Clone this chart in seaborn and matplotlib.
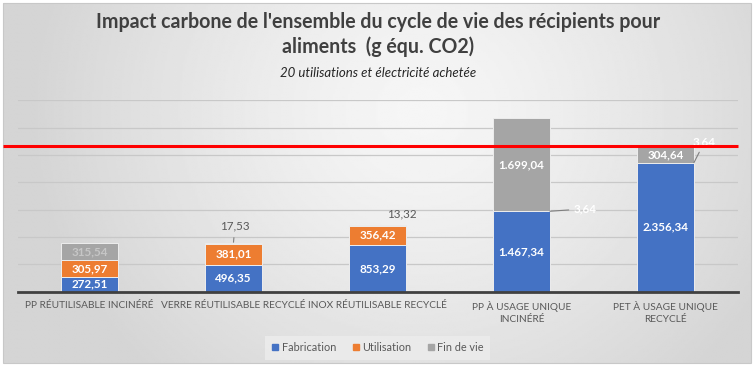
# Impact carbone des récipients pour aliments - barres empilées
import numpy as np
import pandas as pd
import matplotlib.pyplot as plt
import seaborn as sns
from matplotlib.lines import Line2D
from matplotlib.patches import Rectangle

# Données
categories = [
    "PP RÉUTILISABLE INCINÉRÉ",
    "VERRE RÉUTILISABLE RECYCLÉ",
    "INOX RÉUTILISABLE RECYCLÉ",
    "PP À USAGE UNIQUE\nINCINÉRÉ",
    "PET À USAGE UNIQUE\nRECYCLÉ",
]
fabrication = [272.51, 496.35, 853.29, 1467.34, 2356.34]
utilisation = [305.97, 381.01, 356.42, 3.64, 3.64]
fin_de_vie = [315.54, 17.53, 13.32, 1699.04, 304.64]
series_names = ["Fabrication", "Utilisation", "Fin de vie"]
series_colors = ["#4472C4", "#ED7D31", "#A5A5A5"]
grid_values = [500, 1000, 1500, 2000, 2500, 3000, 3500]

df = pd.DataFrame({
    "recipient": categories,
    "Fabrication": fabrication,
    "Utilisation": utilisation,
    "Fin de vie": fin_de_vie,
})


def fmt(v):
    # format français : 1.467,34
    s = f"{v:,.2f}"
    return s.replace(",", "#").replace(".", ",").replace("#", ".")


sns.set_style("white")
plt.rcParams["font.family"] = ["Lato", "DejaVu Sans"]

fig = plt.figure(figsize=(7.56, 3.70), dpi=100)
fig.patch.set_facecolor("white")

# Fond dégradé
bg = fig.add_axes([0, 0, 1, 1], zorder=-10)
xx, yy = np.meshgrid(np.linspace(0, 1, 400), np.linspace(0, 1, 200))
d = np.sqrt(((xx - 0.56) / 0.52) ** 2 + ((yy - 0.3) / 1.0) ** 2)
val = 0.965 - 0.13 * np.clip(d, 0, 1) ** 1.3
x0, x1 = 3 / 756, 751 / 756
y0, y1 = 1 - 363 / 370, 1 - 3 / 370
bg.imshow(val, cmap="gray", vmin=0, vmax=1, extent=[x0, x1, y0, y1],
          aspect="auto", origin="upper")
bg.add_patch(Rectangle((x0, y0), x1 - x0, y1 - y0, fill=False,
                       edgecolor="#C8C8C8", lw=0.8))
bg.set_xlim(0, 1)
bg.set_ylim(0, 1)
bg.axis("off")

ax = fig.add_axes([17.5 / 756, 78.3 / 370, 720 / 756, 191.3 / 370])
ax.set_facecolor("none")

bottom = np.zeros(len(categories))
for name, color in zip(series_names, series_colors):
    sns.barplot(data=df, x="recipient", y=name, color=color, saturation=1,
                width=0.395, bottom=bottom.copy(), edgecolor="#EDEDED",
                linewidth=0.7, errorbar=None, ax=ax, zorder=3)
    # étiquettes dans les segments
    for i, v in enumerate(df[name]):
        if v > 100:
            txt_color = "#C6C6C6" if (name == "Fin de vie" and i == 0) else "white"
            ax.text(i, bottom[i] + v / 2, fmt(v), ha="center", va="center",
                    fontsize=8.4, fontweight="bold", color=txt_color, zorder=5)
    bottom += df[name].values

totals = bottom.copy()

# petites valeurs hors des barres
ax.annotate(fmt(fin_de_vie[1]), xy=(1.0, totals[1] + 10), xytext=(1.01, 1200),
            ha="center", va="center", fontsize=8.4, color="#595959",
            arrowprops=dict(arrowstyle="-", color="#7F7F7F", lw=0.8,
                            shrinkA=2, shrinkB=0))
ax.text(2.17, 1420, fmt(fin_de_vie[2]), ha="center", va="center",
        fontsize=8.4, color="#595959")
ax.annotate(fmt(utilisation[3]), xy=(3.1975, fabrication[3] + 5),
            xytext=(3.44, 1515), ha="center", va="center", fontsize=8.4,
            fontweight="bold", color="white", zorder=6,
            arrowprops=dict(arrowstyle="-", color="#7F7F7F", lw=0.8,
                            shrinkA=1, shrinkB=0))
ax.annotate(fmt(utilisation[4]), xy=(4.1975, fabrication[4] + 5),
            xytext=(4.27, 2735), ha="center", va="center", fontsize=8.4,
            fontweight="bold", color="white", zorder=6,
            arrowprops=dict(arrowstyle="-", color="#7F7F7F", lw=0.8,
                            shrinkA=1, shrinkB=0))

# ligne rouge au niveau du total PET
ax.plot([-0.6, 4.5], [totals[4], totals[4]], color="#FF0000", lw=2.2,
        clip_on=False, zorder=7, solid_capstyle="butt")

ax.set_xlim(-0.5, 4.5)
ax.set_ylim(0, 3500)
ax.set_yticks(grid_values)
ax.set_yticklabels([])
ax.yaxis.grid(True, color="#C8C8C8", lw=0.9, zorder=0)
ax.xaxis.grid(False)
ax.set_axisbelow(True)
for side in ["left", "right", "top"]:
    ax.spines[side].set_visible(False)
ax.spines["bottom"].set_color("#404040")
ax.spines["bottom"].set_linewidth(2)
ax.spines["bottom"].set_zorder(6)
ax.set_xlabel("")
ax.set_ylabel("")
ax.tick_params(axis="x", length=0, pad=7, labelsize=7.3, labelcolor="#595959")
ax.tick_params(axis="y", length=0)
for lbl in ax.get_xticklabels():
    lbl.set_linespacing(1.4)

# titres
fig.text(0.5, 1 - 22 / 370,
         "Impact carbone de l'ensemble du cycle de vie des récipients pour",
         ha="center", va="center", fontsize=14.1, fontweight="bold",
         color="#404040")
fig.text(0.5, 1 - 47 / 370, "aliments  (g équ. CO2)", ha="center",
         va="center", fontsize=14.1, fontweight="bold", color="#404040")
fig.text(0.5, 1 - 73 / 370, "20 utilisations et électricité achetée",
         ha="center", va="center", fontsize=9.5, style="italic",
         color="#262626")

# légende
handles = [Line2D([0], [0], marker="s", linestyle="none", markersize=4.5,
                  markerfacecolor=c, markeredgecolor=c) for c in series_colors]
leg = fig.legend(handles, series_names, loc="center",
                 bbox_to_anchor=(377.5 / 756, 1 - 347.5 / 370), ncol=3,
                 fontsize=7.8, labelcolor="#595959", frameon=True,
                 fancybox=False, handlelength=0.8, handletextpad=0.2,
                 columnspacing=1.4, borderpad=0.6)
leg.get_frame().set_facecolor("#EDEDED")
leg.get_frame().set_edgecolor("none")

plt.savefig("out.png", dpi=100)
